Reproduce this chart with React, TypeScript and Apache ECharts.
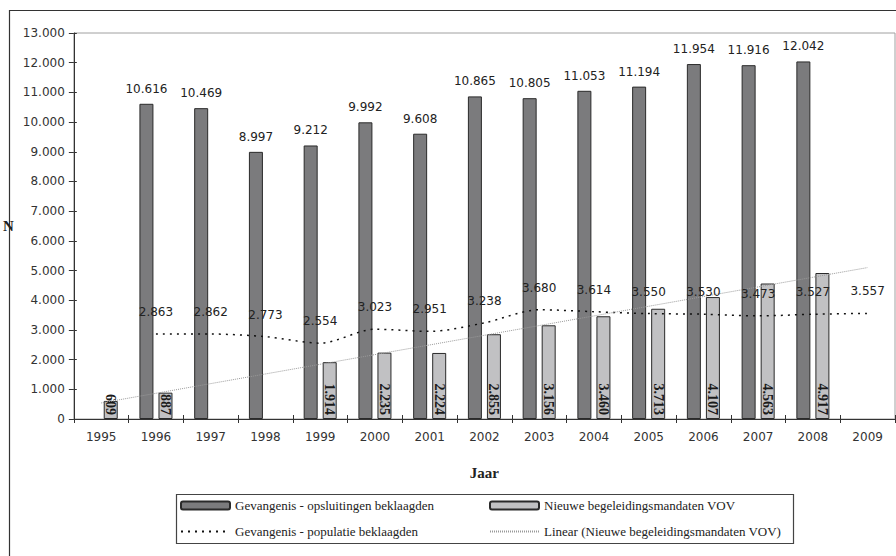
import React, { useEffect, useRef } from "react";
import * as echarts from "echarts";

const years = ["1995", "1996", "1997", "1998", "1999", "2000", "2001", "2002", "2003", "2004", "2005", "2006", "2007", "2008", "2009"];
const opsluitingen = [null, 10616, 10469, 8997, 9212, 9992, 9608, 10865, 10805, 11053, 11194, 11954, 11916, 12042, null];
const mandaten = [609, 887, null, null, 1914, 2235, 2224, 2855, 3156, 3460, 3713, 4107, 4563, 4917, null];
const populatie = [null, 2863, 2862, 2773, 2554, 3023, 2951, 3238, 3680, 3614, 3550, 3530, 3473, 3527, 3557];
const trend = [540, null, null, null, null, null, null, null, null, null, null, null, null, null, 5100];

const names = [
  "Gevangenis - opsluitingen beklaagden",
  "Nieuwe begeleidingsmandaten VOV",
  "Gevangenis - populatie beklaagden",
  "Linear (Nieuwe begeleidingsmandaten VOV)",
];

const fmt = (v: number) => String(v).replace(/\B(?=(\d{3})+(?!\d))/g, ".");

const SANS = "DejaVu Sans";
const SERIF = "Liberation Serif";

export default function App() {
  const ref = useRef<HTMLDivElement>(null);
  useEffect(() => {
    const chart = echarts.init(ref.current!, null, { renderer: "svg" });
    const legendText = { fontFamily: SERIF, fontSize: 13, color: "#222" };
    const mkLegend = (name: string, left: number, top: number, hideSymbol = false) => ({
      data: [name],
      left,
      top,
      padding: 0,
      itemWidth: 49,
      itemHeight: 8,
      itemGap: 4,
      textStyle: legendText,
      selectedMode: false,
      ...(hideSymbol ? { itemStyle: { opacity: 0 } } : {}),
    });
    chart.setOption({
      animation: false,
      backgroundColor: "#fff",
      grid: { left: 73, top: 33, right: 1, bottom: 137, show: true, borderColor: "#a0a0a0", borderWidth: 1 },
      legend: [
        mkLegend(names[0], 180, 499),
        mkLegend(names[1], 489, 499),
        mkLegend(names[2], 180, 525, true),
        mkLegend(names[3], 489, 525, true),
      ],
      xAxis: [
        {
          type: "category",
          data: years,
          boundaryGap: true,
          name: "Jaar",
          nameLocation: "middle",
          nameGap: 46,
          nameTextStyle: { fontFamily: SERIF, fontSize: 15, fontWeight: "bold", color: "#222" },
          axisLine: { lineStyle: { color: "#333", width: 1 } },
          axisTick: { show: true, length: 4, lineStyle: { color: "#333" } },
          axisLabel: { fontFamily: SANS, fontSize: 12, color: "#333", margin: 12 },
        },
        {
          type: "category",
          data: years,
          position: "bottom",
          boundaryGap: true,
          axisLine: { show: false },
          axisTick: { show: true, inside: true, length: 4, lineStyle: { color: "#333" } },
          axisLabel: { show: false },
        },
      ],
      yAxis: [
        {
          type: "value",
          min: 0,
          max: 13000,
          interval: 1000,
          name: "N",
          nameLocation: "middle",
          nameRotate: 0,
          nameGap: 60,
          nameTextStyle: { fontFamily: SERIF, fontSize: 15, fontWeight: "bold", color: "#222" },
          axisLine: { show: true, lineStyle: { color: "#333", width: 1 } },
          axisTick: { show: true, length: 5, lineStyle: { color: "#333" } },
          splitLine: { show: false },
          axisLabel: { fontFamily: SANS, fontSize: 12, color: "#333", margin: 9, formatter: (v: number) => fmt(v) },
        },
        {
          type: "value",
          min: 0,
          max: 13000,
          interval: 1000,
          position: "left",
          axisLine: { show: false },
          axisTick: { show: true, inside: true, length: 3, lineStyle: { color: "#333" } },
          splitLine: { show: false },
          axisLabel: { show: false },
        },
      ],
      series: [
        {
          name: names[0],
          type: "bar",
          data: opsluitingen,
          barWidth: 14,
          barGap: "36%",
          itemStyle: { color: "#7b7b7d", borderColor: "#2a2a2a", borderWidth: 1 },
          label: {
            show: true,
            position: "top",
            distance: 9,
            fontFamily: SANS,
            fontSize: 12,
            color: "#222",
            formatter: (p: any) => fmt(p.value),
          },
        },
        {
          name: names[1],
          type: "bar",
          data: mandaten,
          barWidth: 14,
          itemStyle: { color: "#c1c1c3", borderColor: "#2a2a2a", borderWidth: 1 },
          label: {
            show: true,
            position: "insideBottom",
            distance: 4,
            rotate: -90,
            align: "right",
            verticalAlign: "middle",
            fontFamily: SERIF,
            fontWeight: "bold",
            fontSize: 14,
            color: "#1a1a1a",
            formatter: (p: any) => fmt(p.value),
          },
        },
        {
          name: names[2],
          type: "line",
          data: populatie,
          smooth: 0.3,
          symbol: "circle",
          symbolSize: 0.1,
          showSymbol: true,
          lineStyle: { color: "#111", width: 1.5, type: [2, 5] },
          itemStyle: { color: "#111" },
          z: 3,
          label: {
            show: true,
            position: "top",
            distance: 16,
            fontFamily: SANS,
            fontSize: 12,
            color: "#222",
            formatter: (p: any) => fmt(p.value),
          },
        },
        {
          name: names[3],
          type: "line",
          data: trend,
          connectNulls: true,
          symbol: "none",
          lineStyle: { color: "#9a9a9a", width: 1, type: [1, 1] },
          itemStyle: { color: "#9a9a9a" },
          z: 3,
        },
      ],
      graphic: [
        {
          type: "rect",
          shape: { x: 9.5, y: 10.5, width: 1000, height: 700 },
          style: { fill: "none", stroke: "#333", lineWidth: 1.2 },
          silent: true,
        },
        {
          type: "rect",
          shape: { x: 176.5, y: 494.5, width: 617, height: 49 },
          style: { fill: "none", stroke: "#444", lineWidth: 1.2 },
          silent: true,
        },
      ],
    });
    return () => chart.dispose();
  }, []);
  return <div ref={ref} style={{ position: "fixed", left: 0, top: 0, width: 896, height: 556 }} />;
}
